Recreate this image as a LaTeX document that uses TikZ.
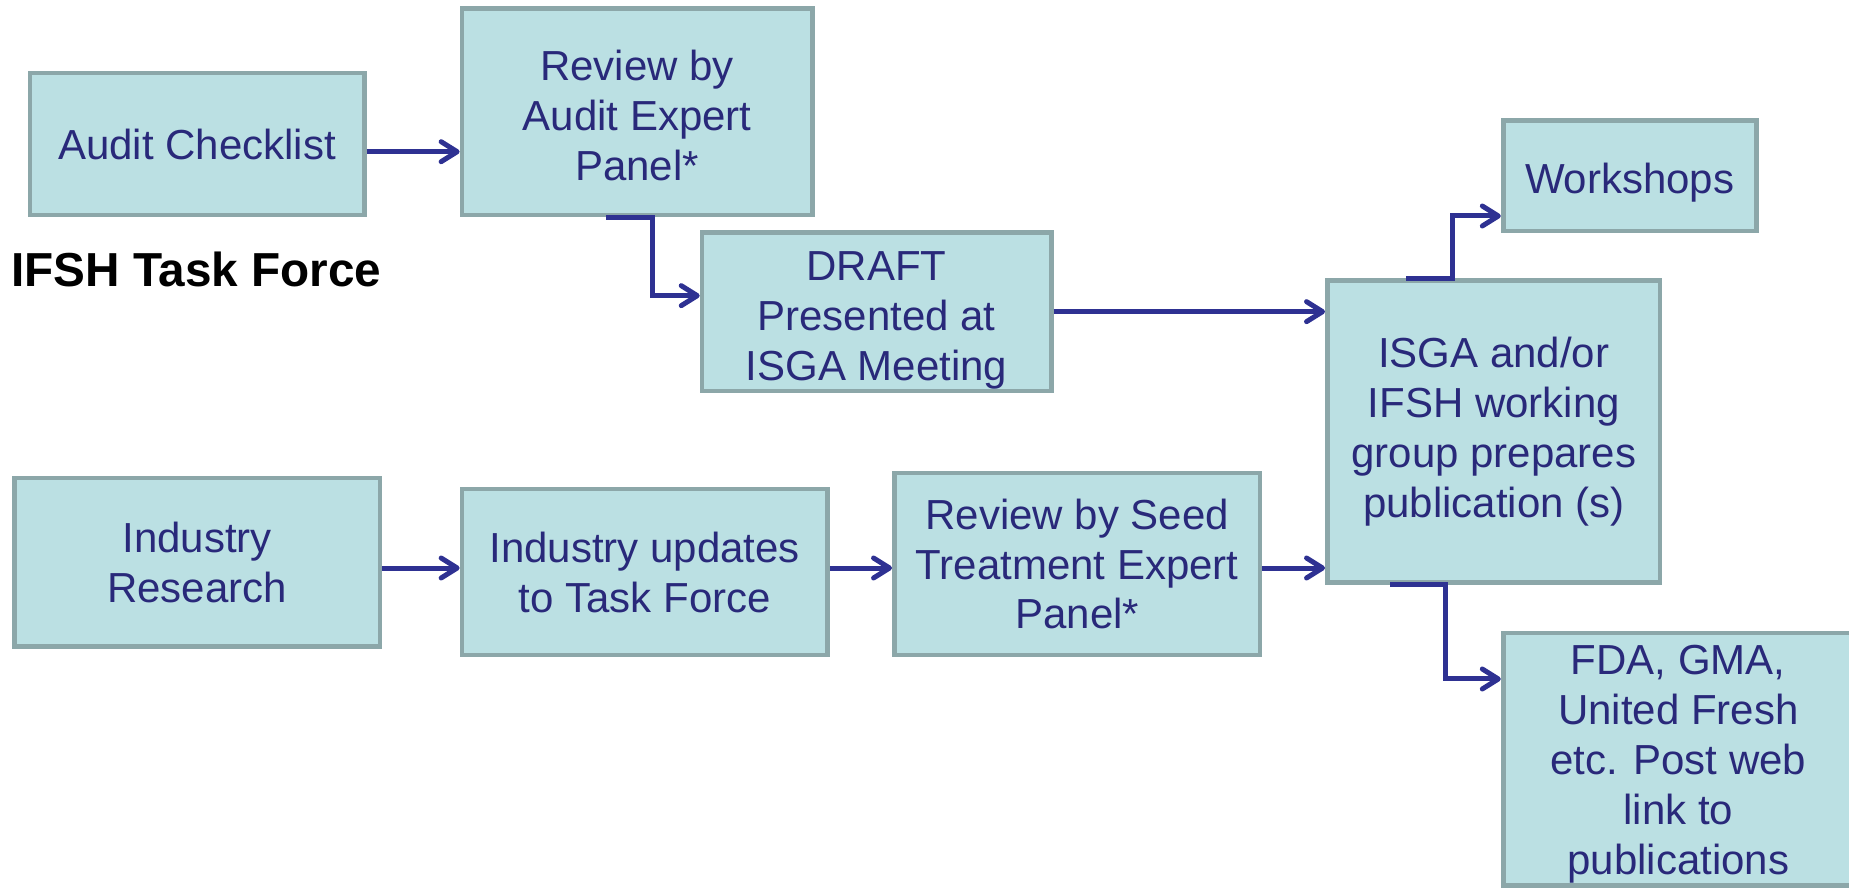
\documentclass[tikz,border=0pt]{standalone}
\usepackage{fontspec}
\setmainfont{Liberation Sans}
\usetikzlibrary{arrows.meta}
\definecolor{boxfill}{HTML}{BBE0E3}
\definecolor{boxline}{HTML}{8CA7A9}
\definecolor{arrblue}{HTML}{2E3192}
\definecolor{txtblue}{HTML}{29297A}
\newcommand\boxfont{\fontsize{23.9}{28.45}\selectfont}
\begin{document}
\begin{tikzpicture}[x=0.02cm,y=-0.02cm,
    stepbox/.style={draw=boxline,fill=boxfill,line width=0.094cm,text=txtblue,
      font=\boxfont,align=center,inner sep=0pt},
    flow/.style={draw=arrblue,line width=0.1cm,line join=miter,
      -{Straight Barb[length=0.32cm,width=0.4cm,round]}}]
      \clip (0,0) rectangle (1849,888);
      % top row
      \node[stepbox,minimum width=6.686cm,minimum height=2.838cm] (ac) at (197.1,144) {Audit Checklist};
      \node[stepbox,minimum width=7.008cm,minimum height=4.132cm] (rev) at (637.15,111.65) {\rule{0pt}{0.75cm}Review by\\Audit Expert\\Panel*};
      \node[stepbox,minimum width=6.984cm,minimum height=3.172cm] (draft) at (876.65,311.65) {\rule{0pt}{0.93cm}DRAFT\\Presented at\\ISGA Meeting};
      \node[stepbox,minimum width=5.062cm,minimum height=2.206cm] (ws) at (1629.7,175.8) {\rule{0pt}{0.89cm}Workshops};
      \node[stepbox,minimum width=6.656cm,minimum height=6.034cm] (isga) at (1493.75,431.5) {ISGA and/or\\IFSH working\\group prepares\\publication (s)};
      % bottom row
      \node[stepbox,minimum width=7.316cm,minimum height=3.372cm] (ir) at (197.05,562.35) {Industry\\Research};
      \node[stepbox,minimum width=7.314cm,minimum height=3.318cm] (iu) at (644.8,572) {Industry updates\\to Task Force};
      \node[stepbox,minimum width=7.316cm,minimum height=3.638cm] (seed) at (1077.25,564) {Review by Seed\\Treatment Expert\\Panel*};
      \node[stepbox,anchor=north west,minimum width=7.006cm,minimum height=5.05cm] (fda) at (1500.8,630.7) {\rule{0pt}{0.77cm}FDA, GMA,\\United Fresh\\etc. Post web\\link to\\publications};
      \node[anchor=base west,inner sep=0pt,font=\fontsize{27.15}{32}\selectfont\bfseries] (tf) at (10.8,287) {IFSH Task Force};
      % arrows
      \draw[flow] ([yshift=-0.154cm]ac.east) -- ([yshift=-0.154cm]ac.east -| rev.west);
      \draw[flow] ([xshift=-0.62cm]rev.south) -- ++(0.93cm,0) |- ([yshift=0.32cm]draft.west);
      \draw[flow] (draft.east) -- (draft.east -| isga.west);
      \draw[flow] ([xshift=-1.76cm]isga.north) -- ++(0.934cm,0) |- ([yshift=-0.804cm]ws.west);
      \draw[flow] ([yshift=-0.113cm]ir.east) -- ([yshift=-0.113cm]ir.east -| iu.west);
      \draw[flow] ([yshift=0.08cm]iu.east) -- ([yshift=0.08cm]iu.east -| seed.west);
      \draw[flow] ([yshift=-0.08cm]seed.east) -- ([yshift=-0.08cm]seed.east -| isga.west);
      \draw[flow] ([xshift=-2.075cm]isga.south) -- ++(1.108cm,0) |- ([yshift=-0.966cm]fda.north west);
    \end{tikzpicture}
\end{document}
